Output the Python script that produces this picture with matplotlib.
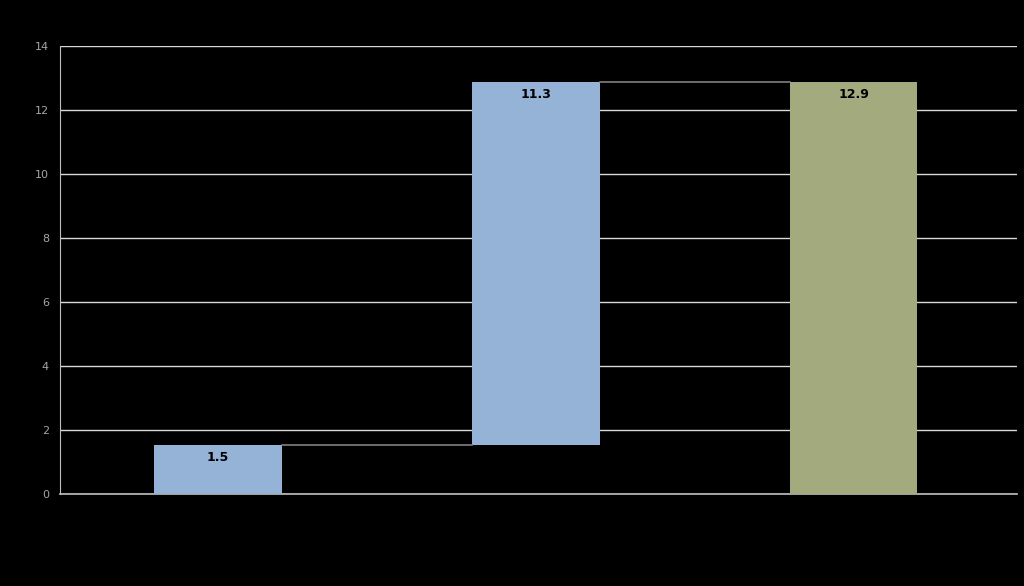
import matplotlib
matplotlib.use("Agg")
import matplotlib.pyplot as plt
import numpy as np

categories = ["Start", "Change", "Total"]
steps = [1.54, 11.32]
total = 12.86
colors = ["#95B3D7", "#95B3D7", "#A3AB7E"]

fig = plt.figure(figsize=(10.24, 5.86), dpi=100, facecolor="black")
ax = fig.add_axes([60/1024, 1 - 494/586, 957/1024, 448/586])
ax.set_facecolor("black")

x = np.arange(len(categories))
bottoms = [0, steps[0], 0]
heights = [steps[0], steps[1], total]
w = 0.4

ax.set_ylim(0, 14)
ax.set_xlim(-0.497, 2.513)
ax.set_yticks(np.arange(0, 15, 2))
ax.yaxis.grid(True, color="#d9d9d9", linewidth=1.0)
ax.set_axisbelow(True)

ax.bar(x, heights, bottom=bottoms, width=w, color=colors, zorder=3)

# connectors
tops = [steps[0], steps[0] + steps[1]]
for i in range(2):
    ax.plot([x[i] + w/2, x[i+1] - w/2], [tops[i], tops[i]], color="#808080", lw=1.2, zorder=4)

labels = [steps[0], steps[1], total]
for xi, b, h, v in zip(x, bottoms, heights, labels):
    ax.annotate(f"{v:.1f}", (xi, b + h), xytext=(0, -9), textcoords="offset points",
                ha="center", va="center", fontsize=9, fontweight="bold", color="black", zorder=5)

for s in ["top", "right"]:
    ax.spines[s].set_visible(False)
ax.spines["left"].set_color("#bfbfbf")
ax.spines["bottom"].set_color("#bfbfbf")
ax.spines["bottom"].set_linewidth(1.2)
ax.set_xticks([])
ax.tick_params(axis="y", length=0, colors="#a6a6a6", labelsize=8, pad=8)

fig.savefig("out.png", dpi=100, facecolor="black")
